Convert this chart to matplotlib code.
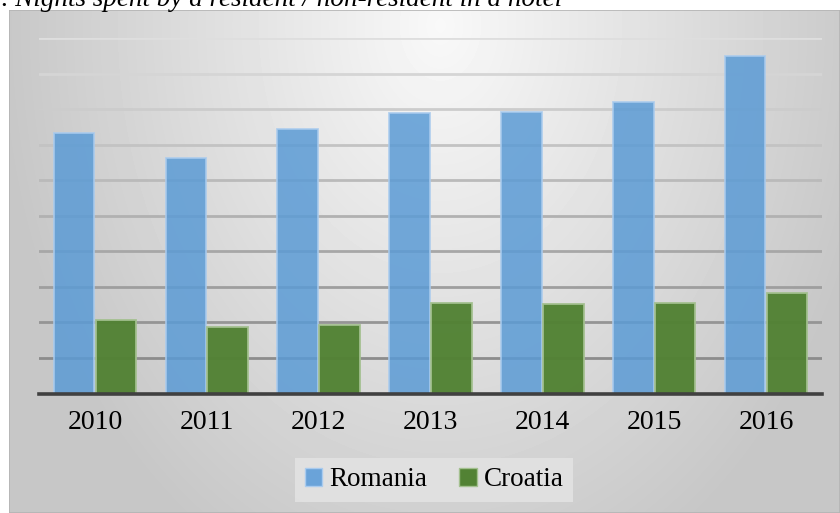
import numpy as np
import matplotlib
matplotlib.use("Agg")
import matplotlib.pyplot as plt
from matplotlib.patches import Patch, Rectangle

# ---- data ----
years = ["2010", "2011", "2012", "2013", "2014", "2015", "2016"]
romania = [7.34, 6.63, 7.44, 7.89, 7.92, 8.22, 9.49]
croatia = [2.07, 1.88, 1.92, 2.55, 2.52, 2.54, 2.83]
series_names = ["Romania", "Croatia"]
title_text = "1. Nights spent by a resident / non-resident in a hotel"

W, H = 840, 513
fig = plt.figure(figsize=(W / 100, H / 100), dpi=100)
fig.patch.set_facecolor("white")

serif = ["Liberation Serif", "DejaVu Serif"]

# ---- background (radial gradient chart area) ----
fx0, fy0 = 9, 10  # left, top of chart frame in px
bg = fig.add_axes([fx0 / W, 0, (W - fx0) / W, (H - fy0) / H], zorder=0)
ny, nx = 503, 831
yy, xx = np.mgrid[0:ny, 0:nx]
cx, cy = 431, 15
t = np.sqrt(((xx - cx) / 440.0) ** 2 + ((yy - cy) / 600.0) ** 2)
t = np.clip(t, 0, 1)
val = 0.975 - 0.195 * t
bg.imshow(val, cmap="gray", vmin=0, vmax=1, aspect="auto",
          extent=(0, nx, ny, 0), interpolation="bilinear")
bg.add_patch(Rectangle((0, 0), nx, ny, fill=False, edgecolor="#b4b4b4", lw=1.2))
bg.set_xlim(0, nx)
bg.set_ylim(ny, 0)
bg.axis("off")

# ---- title (partially cut at top, as in the source) ----
fig.text(562 / W, 1 - 6 / H, title_text, ha="right", va="baseline",
         fontsize=19.5, style="italic", family=serif, color="black")

# ---- main axes ----
left, right = 39, 822
base_y, top_y = 393.5, 38.3
ax = fig.add_axes([left / W, (H - base_y) / H, (right - left) / W, (base_y - top_y) / H],
                  zorder=1)
ax.patch.set_alpha(0)
ax.set_xlim(-0.5, len(years) - 0.5)
ax.set_ylim(0, 10)

# gridlines (darker towards bottom)
for k in range(1, 11):
    g = 0.55 + 0.32 * (k - 1) / 9
    ax.axhline(k, color=(g, g, g), lw=2.0, zorder=1)

x = np.arange(len(years))
bw = 0.375
ax.bar(x - bw / 2, romania, width=bw - 0.012, color="#5b9bd5", alpha=0.85,
       edgecolor="#a9cbee", linewidth=1.3, zorder=2)
ax.bar(x + bw / 2, croatia, width=bw - 0.012, color="#528234", alpha=0.97,
       edgecolor="#a3c08f", linewidth=1.3, zorder=2)

ax.axhline(0, color="#404040", lw=2.6, zorder=3, clip_on=False)

for s in ax.spines.values():
    s.set_visible(False)
ax.set_yticks([])
ax.set_xticks(x)
ax.set_xticklabels(years, fontsize=20, family=serif)
ax.tick_params(axis="x", length=0, pad=12)

# ---- legend ----
handles = [Patch(facecolor="#6aa3d9", edgecolor="#a9cbee", label=series_names[0]),
           Patch(facecolor="#528234", edgecolor="#a3c08f", label=series_names[1])]
leg = fig.legend(handles=handles, loc="center", bbox_to_anchor=(434 / W, 1 - 480 / H),
                 ncol=2, frameon=True, fancybox=False,
                 prop={"family": serif, "size": 19.5},
                 handlelength=0.65, handleheight=0.65, handletextpad=0.25,
                 columnspacing=1.2, borderpad=0.35)
leg.get_frame().set_facecolor("#e2e2e2")
leg.get_frame().set_edgecolor("none")
leg.get_frame().set_alpha(0.9)
leg.set_zorder(5)

fig.savefig("out.png", dpi=100)
